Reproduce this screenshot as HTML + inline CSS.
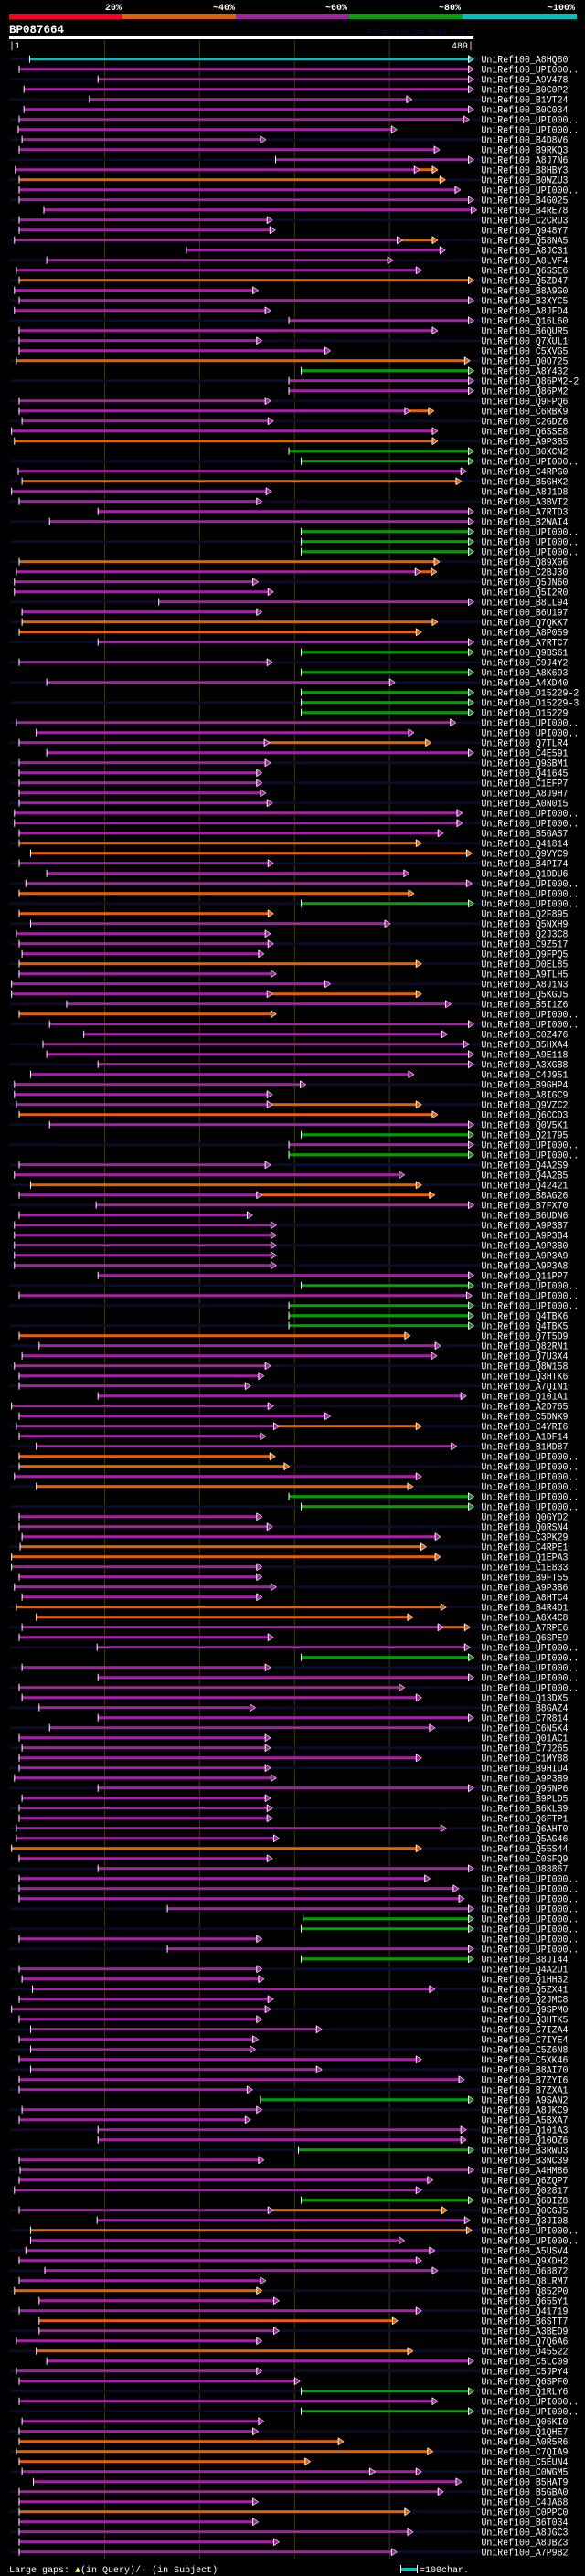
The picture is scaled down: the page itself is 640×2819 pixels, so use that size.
<!DOCTYPE html>
<html><head><meta charset="utf-8"><style>
html,body{margin:0;padding:0;background:#000;}
svg{display:block;}
text{font-family:"Liberation Mono",monospace;}
</style></head><body>
<svg id="chart" xmlns="http://www.w3.org/2000/svg" width="640" height="2819" viewBox="0 0 640 2819">
<rect x="0" y="0" width="640" height="2819" fill="#000"/>
<g>
<rect x="10" y="15" width="124" height="6" fill="#ff0022"/>
<rect x="134" y="15" width="124" height="6" fill="#e06000"/>
<rect x="258" y="15" width="124" height="6" fill="#a020a0"/>
<rect x="382" y="15" width="124" height="6" fill="#00a000"/>
<rect x="506" y="15" width="125" height="6" fill="#00c0c0"/>
<text x="133" y="11" fill="#fff" font-size="10" font-weight="bold" text-anchor="end">20%</text>
<text x="257" y="11" fill="#fff" font-size="10" font-weight="bold" text-anchor="end">~40%</text>
<text x="380" y="11" fill="#fff" font-size="10" font-weight="bold" text-anchor="end">~60%</text>
<text x="504" y="11" fill="#fff" font-size="10" font-weight="bold" text-anchor="end">~80%</text>
<text x="629" y="11" fill="#fff" font-size="10" font-weight="bold" text-anchor="end">~100%</text>
</g>
<text x="10" y="36" fill="#fff" font-size="12.5" font-weight="bold">BP087664</text>
<text x="402" y="37" fill="#0c0c44" font-size="8.5">AlignView.pm Beta rel.7</text>
<rect x="10" y="39" width="508" height="4" fill="#fff"/>
<text x="10" y="53" fill="#fff" font-size="10">|1</text>
<text x="518" y="53" fill="#fff" font-size="10" text-anchor="end">489|</text>
<g id="grid"></g>
<g id="rows"></g>
<g>
<text x="10" y="2815" fill="#fff" font-size="10">Large gaps: <tspan fill="#ffff80">▲</tspan>(in Query)/<tspan fill="#00c0c0">-</tspan> (in Subject)</text>
<rect x="439" y="2810" width="17" height="3" fill="#00c0c0"/>
<rect x="438" y="2807" width="1" height="9" fill="#fff"/>
<rect x="456" y="2807" width="1" height="9" fill="#fff"/>
<text x="459" y="2815" fill="#fff" font-size="10">=100char.</text>
</g>
</svg>
<script>
const labels = ["A8HQ80","UPI000..","A9V478","B0C0P2","B1VT24","B0C034","UPI000..","UPI000..","B4D8V6","B9RKQ3","A8J7N6","B8HBY3","B0WZU3","UPI000..","B4G025","B4RE78","C2CRU3","Q948Y7","Q58NA5","A8JC31","A8LVF4","Q6SSE6","Q5ZD47","B8A9G0","B3XYC5","A8JFD4","Q16L60",
"B6QUR5","Q7XUL1","C5XVG5","Q0O725","A8Y432","Q86PM2-2","Q86PM2","Q9FPQ6","C6RBK9","C2GDZ6","Q6SSE8","A9P3B5","B0XCN2","UPI000..","C4RPG0","B5GHX2","A8J1D8","A3BVT2","A7RTD3","B2WAI4","UPI000..","UPI000..","UPI000..","Q89X06","C2BJ30","Q5JN60","Q5I2R0",
"B8LL94","B6U197","Q7QKK7","A8P059","A7RTC7","Q9BS61","C9J4Y2","A8K693","A4XD40","O15229-2","O15229-3","O15229","UPI000..","UPI000..","Q7TLR4","C4E591","Q9SBM1","Q41645","C1EFP7","A8J9H7","A0N015","UPI000..","UPI000..","B5GAS7","Q41814","Q9VYC9","B4PI74",
"Q1DDU6","UPI000..","UPI000..","UPI000..","Q2F895","Q5NXH9","Q2J3C8","C9Z517","Q9FPQ5","D0EL85","A9TLH5","A8J1N3","Q5KGJ5","B5I1Z6","UPI000..","UPI000..","C0Z476","B5HXA4","A9E118","A3XGB8","C4J951","B9GHP4","A8IGC9","Q9VZC2","Q6CCD3","Q0V5K1","Q21795",
"UPI000..","UPI000..","Q4A2S9","Q4A2B5","Q42421","B8AG26","B7FX70","B6UDN6","A9P3B7","A9P3B4","A9P3B0","A9P3A9","A9P3A8","Q11PP7","UPI000..","UPI000..","UPI000..","Q4TBK6","Q4TBK5","Q7T5D9","Q82RN1","Q7U3X4","Q8W158","Q3HTK6","A7QIN1","Q101A1","A2D765",
"C5DNK9","C4YRI6","A1DF14","B1MD87","UPI000..","UPI000..","UPI000..","UPI000..","UPI000..","UPI000..","Q0GYD2","Q0RSN4","C3PK29","C4RPE1","Q1EPA3","C1E833","B9FT55","A9P3B6","A8HTC4","B4R4D1","A8X4C8","A7RPE6","Q6SPE9","UPI000..","UPI000..","UPI000..","UPI000..",
"UPI000..","Q13DX5","B8GAZ4","C7R814","C6N5K4","Q01AC1","C7J265","C1MY88","B9HIU4","A9P3B9","Q95NP6","B9PLD5","B6KLS9","Q6FTP1","Q6AHT0","Q5AG46","Q55S44","C0SFQ9","O88867","UPI000..","UPI000..","UPI000..","UPI000..","UPI000..","UPI000..","UPI000..","UPI000..",
"B8JI44","Q4A2U1","Q1HH32","Q5ZX41","Q2JMC8","Q9SPM0","Q3HTK5","C7IZA4","C7IYE4","C5Z6N8","C5XK46","B8AI70","B7ZYI6","B7ZXA1","A9SAN2","A8JKC9","A5BXA7","Q101A3","Q10OZ6","B3RWU3","B3NC39","A4HM86","Q6ZQP7","Q02817","Q6DIZ8","Q0CGJ5","Q3JI08",
"UPI000..","UPI000..","A5USV4","Q9XDH2","O68872","Q8LRM7","Q852P0","Q655Y1","Q41719","B6STT7","A3BED9","Q7Q6A6","O45522","C5LC09","C5JPY4","Q6SPF0","Q1RLY6","UPI000..","UPI000..","Q06KI0","Q1QHE7","A0R5R6","C7QIA9","C5EUN4","C0WGM5","B5HAT9","B5GBA0",
"C4JA68","C0PPC0","B6T034","A8JGC3","A8JBZ3","A7P9B2"];
const colorGroups = [
"cmmmmmmmmmmmommmmmmmmmmommmm".slice(0,0) + "cmmmmmmmmmmmommmmmmmmmmommmm".slice(0,0) + "c" + "mmmmmmmmmmm" + "o" + "mmmmmmmmm" + "o" + "mmmm",
"mmmog" + "mmmmmm" + "o" + "gg" + "m" + "o" + "mmmm" + "ggg" + "o" + "mmm",
"mmoomgmgm" + "ggg" + "mmmmmmmmmmmm" + "oo" + "m",
"mmogommmmo" + "mmmm" + "o" + "mmmmmmmmm" + "o" + "m" + "g",
"mgmmo" + "mmm" + "mmmmm" + "m" + "g" + "m" + "ggg" + "o" + "mmmmmmm",
"mmmmoomogg" + "mmm" + "oo" + "mmmm" + "oo" + "mmm" + "g" + "mm",
"mmmmmmmmmmmmmmmm" + "o" + "mmmmmm" + "gg" + "mm",
"g" + "mmmmmmmmmmmmm" + "g" + "mmmm" + "g" + "mmmm" + "g" + "mm",
"ommmmmo" + "mm" + "o" + "mm" + "o" + "mmm" + "g" + "m" + "g" + "mm" + "ooo" + "mmm",
"mommmm"];
const colors = colorGroups.join('');
const starts = [22,11,94,16,85,16,11,10,14,11,281,7,11,11,11,37,11,11,6,187,40,8,11,6,11,6,295,
11,11,11,8,308,295,295,11,11,14,3,6,295,308,10,14,3,11,94,43,308,308,308,11,8,6,6,
158,14,14,11,94,308,11,308,40,308,308,308,8,29,11,40,11,11,11,11,11,6,6,11,11,23,11,
40,18,11,308,11,23,8,11,14,11,11,3,3,61,11,43,79,36,40,94,23,6,6,8,11,43,308,
295,295,11,6,23,11,92,11,6,6,6,6,6,94,308,11,295,295,295,11,32,14,6,11,11,94,3,
11,8,11,29,11,11,6,29,295,308,11,11,14,12,3,3,11,6,14,8,29,14,11,93,308,14,94,
11,14,32,94,43,11,14,11,11,6,94,14,11,11,8,8,3,11,94,11,11,11,167,310,308,11,167,
308,11,14,25,11,3,11,23,11,23,11,23,11,11,265,14,11,94,94,305,11,12,11,6,308,11,93,
23,23,18,11,38,11,6,32,11,32,32,8,29,40,8,11,308,11,308,14,11,11,8,11,14,26,11,
11,11,11,11,11,11];
const ends = [485,485,485,485,420,485,480,404,266,449,485,428,455,471,485,488,273,276,410,455,400,430,485,258,485,271,485,
447,262,334,481,485,485,485,271,418,274,447,447,485,485,477,472,272,262,485,485,485,485,485,449,429,258,274,
485,262,447,430,485,485,273,485,402,485,485,485,466,422,270,485,271,262,262,266,273,473,473,453,430,483,274,
417,483,422,485,274,397,271,274,264,430,277,334,273,461,277,485,457,480,485,485,422,308,273,273,447,485,485,
485,485,271,412,430,262,485,252,277,277,277,277,277,485,485,483,485,485,485,418,450,446,271,264,250,477,274,
334,280,266,467,276,291,430,421,485,485,262,273,450,435,450,262,262,277,262,456,421,453,274,481,485,271,485,
412,430,255,485,444,271,271,430,271,277,485,271,273,273,456,280,430,273,485,439,469,475,485,485,485,262,485,
485,262,264,444,274,271,262,325,258,255,430,325,475,252,485,262,250,477,477,485,264,485,442,430,485,274,481,
483,412,444,430,447,266,262,280,430,405,280,262,421,485,262,302,485,447,485,264,258,348,442,313,381,472,453,
258,418,258,421,280,404];
const extRows = [11,18,35,51,68,93,104,113,136,156,214,240];
const extEnds = [447,447,443,446,440,430,430,444,430,481,457,430];
const extColors = "ooooooooooom";

const COL = {c:"#00c0c0", m:"#a61fa6", o:"#e86100", g:"#00a000"};
const NS = "http://www.w3.org/2000/svg";
const xPos = p => 10.6 + (p - 1) * 1.039;
const yPos = i => 64.7 + 11 * i;
const grid = document.getElementById('grid');
const rowsG = document.getElementById('rows');
function mk(tag, attrs, parent) {
  const e = document.createElementNS(NS, tag);
  for (const k in attrs) e.setAttribute(k, attrs[k]);
  parent.appendChild(e);
  return e;
}
[100, 200, 300, 400].forEach(v => {
  const l = mk('rect', {x: xPos(v + 1) - 0.5, y: 44, width: 1, height: 2756, fill: '#3a3a12'}, grid);
  
  
});
function arrow(x, y, color, parent) {
  const a = mk('polygon', {points: `${x-1},${y-4} ${x+5},${y} ${x-1},${y+4}`, fill: color}, parent);
  
  
  mk('rect', {x: x - 1.5, y: y - 4, width: 1, height: 8, fill: '#fff'}, parent);
  mk('line', {x1: x - 1, y1: y - 4, x2: x + 5, y2: y, stroke: '#fff', 'stroke-width': 0.6}, parent);
  mk('line', {x1: x - 1, y1: y + 4, x2: x + 5, y2: y, stroke: '#fff', 'stroke-width': 0.6}, parent);
}
for (let i = 0; i < labels.length; i++) {
  const y = yPos(i);
  const g = mk('g', {}, rowsG);
  
  
  if (i % 2 === 0) {
    const t = mk('rect', {x: 10.6, y: y - 1.5, width: 516, height: 3, fill: '#0b0b2e'}, g);
    
    
  }
  const c = COL[colors[i]] || COL.m;
  const x0 = xPos(starts[i]), x1 = xPos(ends[i]);
  const ei = extRows.indexOf(i);
  if (ei >= 0) {
    const xe = xPos(extEnds[ei]);
    const ec = COL[extColors[ei]];
    const s = mk('rect', {x: x1, y: y - 1.5, width: xe - x1, height: 3, fill: ec}, g);
    
    
    arrow(xe, y, ec, g);
  }
  const b = mk('rect', {x: x0, y: y - 1.5, width: x1 - x0, height: 3, fill: c}, g);
  
  
  const tk = mk('rect', {x: x0 - 0.5, y: y - 4, width: 1, height: 8, fill: '#fff'}, g);
  
  
  arrow(x1, y, c, g);
  const tx = mk('text', {transform: `translate(526.5,${y + 3.8}) scale(0.9,1)`, fill: '#fff', 'font-size': 11}, g);
  tx.textContent = 'UniRef100_' + labels[i];
  
  
}
</script>
</body></html>
